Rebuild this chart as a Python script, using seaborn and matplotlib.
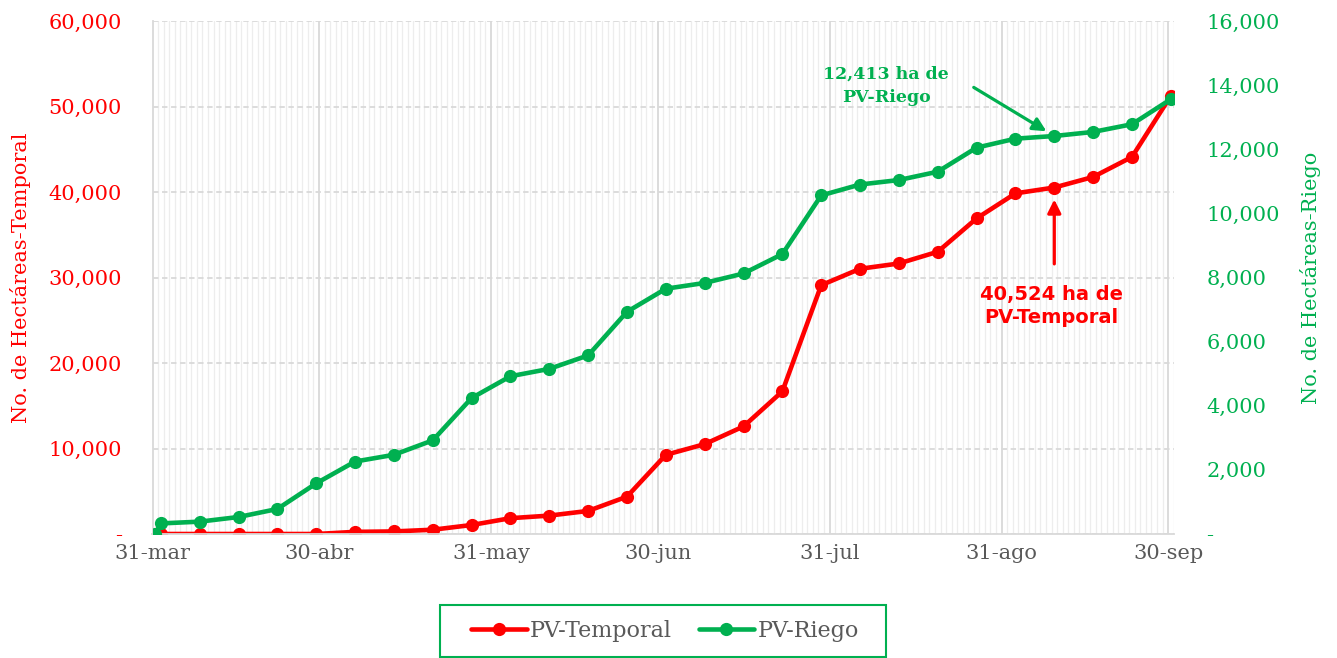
import pandas as pd
import seaborn as sns
import matplotlib.pyplot as plt
import matplotlib.dates as mdates
from matplotlib.patches import Rectangle
from matplotlib.ticker import FuncFormatter, MultipleLocator

# datos semanales
fechas = ['2024-03-31', '2024-04-01', '2024-04-08', '2024-04-15', '2024-04-22', '2024-04-29',
          '2024-05-06', '2024-05-13', '2024-05-20', '2024-05-27', '2024-06-03', '2024-06-10',
          '2024-06-17', '2024-06-24', '2024-07-01', '2024-07-08', '2024-07-15', '2024-07-22',
          '2024-07-29', '2024-08-05', '2024-08-12', '2024-08-19', '2024-08-26', '2024-09-02',
          '2024-09-09', '2024-09-16', '2024-09-23', '2024-09-30']
temporal = [0, 0, 0, 0, 0, 0, 250, 300, 500, 1050, 1850, 2150, 2700, 4370, 9260, 10510,
            12580, 16680, 29100, 31020, 31640, 33010, 36910, 39840, 40524, 41760, 44100, 51250]
riego = [0, 330, 385, 530, 780, 1580, 2260, 2470, 2920, 4240, 4920, 5150, 5570, 6930, 7650,
         7830, 8125, 8730, 10560, 10900, 11040, 11300, 12050, 12330, 12413, 12540, 12780, 13560]

tick_fechas = ['2024-03-31', '2024-04-30', '2024-05-31', '2024-06-30', '2024-07-31',
               '2024-08-31', '2024-09-30']
tick_labels = ['31-mar', '30-abr', '31-may', '30-jun', '31-jul', '31-ago', '30-sep']

ROJO = '#FF0000'
VERDE = '#00B050'
GRIS = '#595959'

df = pd.DataFrame({'fecha': pd.to_datetime(fechas) + pd.Timedelta(hours=12),
                   'temporal': temporal, 'riego': riego})

sns.set_style('white')
plt.rcParams['font.family'] = ['DejaVu Serif']

fig = plt.figure(figsize=(13.37, 6.58), dpi=100)
ax = fig.add_axes([152.5 / 1337, 1 - 534 / 658, (1174.3 - 152.5) / 1337, 513 / 658])
ax2 = ax.twinx()

sns.lineplot(data=df, x='fecha', y='temporal', ax=ax, color=ROJO, linewidth=3.3,
             marker='o', markersize=9.5, markeredgewidth=0, label='PV-Temporal', legend=False)
sns.lineplot(data=df, x='fecha', y='riego', ax=ax2, color=VERDE, linewidth=3.3,
             marker='o', markersize=9.5, markeredgewidth=0, label='PV-Riego', legend=False)

ax.set_xlim(pd.Timestamp('2024-03-31'), pd.Timestamp('2024-10-01 03:00'))
ax.set_ylim(0, 60000)
ax2.set_ylim(0, 16000)

ax.set_xticks(pd.to_datetime(tick_fechas))
ax.set_xticklabels(tick_labels)
ax.xaxis.set_minor_locator(mdates.DayLocator())
ax.yaxis.set_major_locator(MultipleLocator(10000))
ax2.yaxis.set_major_locator(MultipleLocator(2000))

fmt = FuncFormatter(lambda v, p: '-' if v == 0 else f'{v:,.0f}')
ax.yaxis.set_major_formatter(fmt)
ax2.yaxis.set_major_formatter(fmt)

ax.grid(which='minor', axis='x', color='#EDEDED', linewidth=0.9)
ax.grid(which='major', axis='x', color='#D9D9D9', linewidth=1.3)
ax.grid(which='major', axis='y', color='#D9D9D9', linewidth=1.3, linestyle=(0, (3, 2)))
ax.set_axisbelow(True)

ax.tick_params(axis='x', which='major', length=4.5, color='#D9D9D9', width=1.3,
               labelsize=15, labelcolor=GRIS, pad=2.5)
ax.tick_params(axis='x', which='minor', length=0)
ax.tick_params(axis='y', length=0, labelsize=15, labelcolor=ROJO, pad=22)
ax2.tick_params(axis='y', length=0, labelsize=15, labelcolor=VERDE, pad=23)

for s in ['top', 'right']:
    ax.spines[s].set_visible(False)
for s in ['left', 'bottom']:
    ax.spines[s].set_color('#D9D9D9')
    ax.spines[s].set_linewidth(1.3)
for s in ax2.spines.values():
    s.set_visible(False)

ax.set_xlabel('')
ax.set_ylabel('No. de Hectáreas-Temporal', color=ROJO, fontsize=15)
ax.yaxis.set_label_coords(-0.119, 0.5)
ax2.set_ylabel('No. de Hectáreas-Riego', color=VERDE, fontsize=15)
ax2.yaxis.set_label_coords(1.123, 0.5)

# anotaciones
idx = fechas.index('2024-09-09')
ax.annotate('', xy=(df['fecha'][idx], temporal[idx]), xytext=(0, -55), textcoords='offset points',
            arrowprops=dict(arrowstyle='-|>', color=ROJO, lw=2.3, mutation_scale=20,
                            shrinkA=0, shrinkB=8.6))
ax2.annotate('', xy=(df['fecha'][idx], riego[idx]), xytext=(-58, 35), textcoords='offset points',
             arrowprops=dict(arrowstyle='-|>', color=VERDE, lw=2.3, mutation_scale=20,
                             shrinkA=0, shrinkB=6.6))
fig.text(1051 / 1337, 1 - 306 / 658, f'{temporal[idx]:,} ha de\nPV-Temporal', color=ROJO,
         fontsize=14, fontweight='bold', family='DejaVu Sans', ha='center', va='center',
         linespacing=1.3)
fig.text(886 / 1337, 1 - 86 / 658, f'{riego[idx]:,} ha de\nPV-Riego', color=VERDE,
         fontsize=12.5, fontweight='bold', family='DejaVu Serif', ha='center', va='center',
         linespacing=1.5)

# leyenda con marco propio
h1, l1 = ax.get_legend_handles_labels()
h2, l2 = ax2.get_legend_handles_labels()
leg = fig.legend(h1 + h2, l1 + l2, loc='center', bbox_to_anchor=(665 / 1337, 1 - 631 / 658),
                 ncol=2, fontsize=16, frameon=False, handlelength=2.5,
                 columnspacing=1.2, handletextpad=0.15, labelcolor=GRIS)
fig.patches.append(Rectangle((440 / 1337, 1 - 657 / 658), 446 / 1337, 52 / 658,
                             transform=fig.transFigure, fill=False, edgecolor=VERDE, lw=1.5))

fig.savefig('out.png', dpi=100)
